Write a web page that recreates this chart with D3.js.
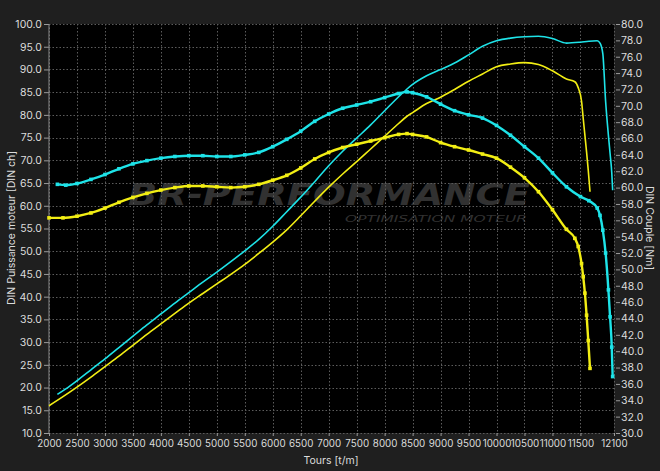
<!DOCTYPE html>
<html><head><meta charset="utf-8">
<script src="https://cdn.jsdelivr.net/npm/d3@7/dist/d3.min.js"></script>
<style>
html,body{margin:0;padding:0;background:#1f1f1f;}
svg{display:block;}
</style></head>
<body>
<svg id="chart" width="660" height="471"></svg>
<script>
// ---- Data ----
const rpmTicks = [2000,2500,3000,3500,4000,4500,5000,5500,6000,6500,7000,7500,8000,8500,9000,9500,10000,10500,11000,11500,12100];
const powerTicks = [10,15,20,25,30,35,40,45,50,55,60,65,70,75,80,85,90,95,100];
const torqueTicks = [30,32,34,36,38,40,42,44,46,48,50,52,54,56,58,60,62,64,66,68,70,72,74,76,78,80];

// Cyan run
const rpmCyan = [2150,2300,2500,2750,3000,3250,3500,3750,4000,4250,4500,4750,5000,5250,5500,5750,6000,6250,6500,6750,7000,7250,7500,7750,8000,8250,8400,8500,8750,9000,9250,9500,9750,10000,10250,10500,10750,11000,11250,11500,11650,11800,11850,11900,11950,12000,12030,12060,12076];
const torqueCyan = [60.4,60.3,60.5,61.0,61.6,62.3,62.9,63.3,63.6,63.8,63.9,63.9,63.8,63.8,64.0,64.3,65.0,65.9,66.9,68.1,69.0,69.7,70.1,70.5,71.0,71.5,71.7,71.6,71.1,70.2,69.4,68.9,68.5,67.6,66.4,65.0,63.6,61.8,60.1,58.9,58.4,57.5,56.6,54.8,52.0,47.5,44.2,40.5,36.9];
const powerCyan = [18.5,19.7,21.5,23.9,26.3,28.8,31.3,33.8,36.2,38.6,40.9,43.2,45.4,47.7,50.1,52.6,55.5,58.7,61.9,65.3,68.8,72.0,74.9,77.8,80.9,84.0,85.7,86.7,88.6,90.0,91.4,93.2,95.1,96.3,96.9,97.2,97.3,96.8,95.8,96.0,96.2,96.3,95.8,93.5,83.0,75.5,71.5,67.3,63.4];

// Yellow run
const rpmYellow = [2000,2250,2500,2750,3000,3250,3500,3750,4000,4250,4500,4750,5000,5250,5500,5750,6000,6250,6500,6750,7000,7250,7500,7750,8000,8250,8400,8500,8750,9000,9250,9500,9750,10000,10250,10500,10750,11000,11250,11400,11460,11520,11550,11580,11610,11640,11671];
const torqueYellow = [56.3,56.3,56.5,56.9,57.5,58.2,58.8,59.3,59.7,60.0,60.2,60.2,60.1,60.0,60.1,60.4,60.9,61.5,62.4,63.5,64.3,64.9,65.3,65.7,66.1,66.5,66.6,66.5,66.2,65.5,65.0,64.6,64.1,63.6,62.5,61.2,59.5,57.3,54.9,53.8,52.8,50.7,49.1,47.1,44.4,41.3,37.9];
const powerYellow = [16.0,18.0,20.1,22.3,24.6,26.9,29.3,31.7,34.0,36.3,38.6,40.7,42.8,44.9,47.1,49.5,52.0,54.7,57.8,61.0,64.1,67.0,69.7,72.5,75.3,78.1,79.7,80.5,82.5,83.9,85.6,87.4,89.0,90.6,91.2,91.5,91.1,89.7,87.9,87.3,86.0,83.0,79.2,75.5,71.8,67.8,63.1];

const cyan = "#1ee3e8", yellow = "#f2ee14";

// ---- Layout ----
const W = 660, H = 471;
const L = 49, R = 614, T = 24, B = 433;
const svg = d3.select("#chart");
const font = "Inter, 'DejaVu Sans', sans-serif";
const textCol = "#dcdcdc";

const x = d3.scaleLinear().domain([2000,12100]).range([L,R]);
const yL = d3.scaleLinear().domain([10,100]).range([B,T]);
const yR = d3.scaleLinear().domain([30,80]).range([B,T]);

svg.append("rect").attr("width",W).attr("height",H).attr("fill","#1f1f1f");
svg.append("rect").attr("x",L).attr("y",T).attr("width",R-L).attr("height",B-T).attr("fill","#000");

// grid
const grid = svg.append("g").attr("stroke","#5c5c5c").attr("stroke-dasharray","1.5,2").attr("stroke-width",1);
grid.selectAll("line.v").data(rpmTicks).join("line")
  .attr("x1",d=>Math.round(x(d))+0.5).attr("x2",d=>Math.round(x(d))+0.5).attr("y1",T).attr("y2",B);
grid.selectAll("line.h").data(powerTicks).join("line")
  .attr("x1",L).attr("x2",R).attr("y1",d=>Math.round(yL(d))+0.5).attr("y2",d=>Math.round(yL(d))+0.5);

// watermark
const wm = svg.append("g").attr("fill","#5a5a5a").attr("opacity",0.55).attr("font-family","'DejaVu Sans', sans-serif").attr("font-style","italic").attr("font-weight","bold");
wm.append("text").attr("x",128).attr("y",205).attr("font-size",30)
  .attr("textLength",402).attr("lengthAdjust","spacingAndGlyphs").text("BR-PERFORMANCE");
wm.append("text").attr("x",345).attr("y",221.5).attr("font-size",9).attr("font-weight","normal")
  .attr("textLength",182).attr("lengthAdjust","spacingAndGlyphs").text("OPTIMISATION MOTEUR");

// axes
const xAxis = svg.append("g").attr("transform",`translate(0,${B})`)
  .call(d3.axisBottom(x).tickValues(rpmTicks).tickSize(3).tickPadding(4).tickFormat(d3.format("d")));
const yAxisL = svg.append("g").attr("transform",`translate(${L},0)`)
  .call(d3.axisLeft(yL).tickValues(powerTicks).tickSize(5).tickPadding(2).tickFormat(d3.format(".1f")));
const yAxisR = svg.append("g").attr("transform",`translate(${R+2},0)`)
  .call(d3.axisRight(yR).tickValues(torqueTicks).tickSize(4).tickPadding(1).tickFormat(d3.format(".1f")));
[xAxis,yAxisL,yAxisR].forEach(g=>{
  g.select(".domain").remove();
  g.selectAll(".tick line").attr("stroke","#9a9a9a");
  g.selectAll(".tick text").attr("fill",textCol).attr("font-family",font).attr("font-size",10.5);
});
xAxis.selectAll(".tick text").attr("font-size",9.8);
svg.append("line").attr("x1",L).attr("x2",L).attr("y1",T).attr("y2",B).attr("stroke","#8a8a8a");

// axis titles
svg.append("text").attr("x",331).attr("y",464).attr("text-anchor","middle").attr("fill",textCol)
  .attr("font-family",font).attr("font-size",10.5).text("Tours [t/m]");
svg.append("text").attr("transform","translate(15,228) rotate(-90)").attr("text-anchor","middle").attr("fill",textCol)
  .attr("font-family",font).attr("font-size",10.5).text("DIN Puissance moteur [DIN ch]");
svg.append("text").attr("transform","translate(646,228) rotate(90)").attr("text-anchor","middle").attr("fill",textCol)
  .attr("font-family",font).attr("font-size",10.5).text("DIN Couple [Nm]");

// curves
const plot = svg.append("g");
function drawPower(rpm, vals, col){
  const pts = rpm.map((r,i)=>[r,vals[i]]);
  plot.append("path").datum(pts).attr("fill","none").attr("stroke",col).attr("stroke-width",1.6)
    .attr("d", d3.line().x(d=>x(d[0])).y(d=>yL(d[1])).curve(d3.curveMonotoneX));
}
function drawTorque(rpm, vals, col){
  const pts = rpm.map((r,i)=>[r,vals[i]]);
  plot.append("path").datum(pts).attr("fill","none").attr("stroke",col).attr("stroke-width",2.4)
    .attr("d", d3.line().x(d=>x(d[0])).y(d=>yR(d[1])).curve(d3.curveMonotoneX));
  plot.append("g").selectAll("rect").data(pts).join("rect")
    .attr("x",d=>x(d[0])-1.8).attr("y",d=>yR(d[1])-1.8).attr("width",3.6).attr("height",3.6).attr("fill",col);
}
drawPower(rpmCyan, powerCyan, cyan);
drawPower(rpmYellow, powerYellow, yellow);
drawTorque(rpmCyan, torqueCyan, cyan);
drawTorque(rpmYellow, torqueYellow, yellow);
</script>
</body></html>
